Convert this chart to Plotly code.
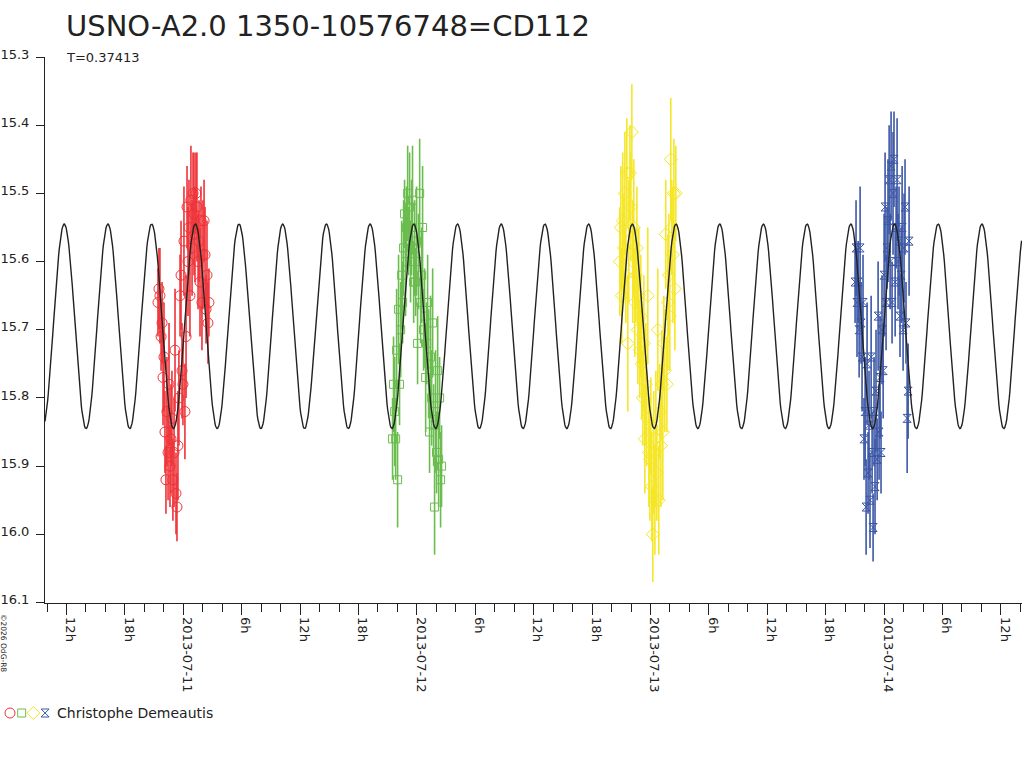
import numpy as np
import pandas as pd
import plotly.graph_objects as go

TITLE = "USNO-A2.0 1350-10576748=CD112"
PERIOD = 0.37413  # days, as printed on the chart
OBSERVER = "Christophe Demeautis"
CREDIT = "©2026 OdG-R8"

# model light curve (black line)
MODEL_MEAN = 15.695
MODEL_AMP = 0.150
MODEL_EPOCH = "2013-07-10 11:46"  # one of the maxima

X_START = "2013-07-10 09:47:30"
X_END = "2013-07-14 14:10"
Y_TOP, Y_BOTTOM = 15.3, 16.1

tick_times = ["2013-07-10 12:00", "2013-07-10 18:00", "2013-07-11 00:00", "2013-07-11 06:00",
              "2013-07-11 12:00", "2013-07-11 18:00", "2013-07-12 00:00", "2013-07-12 06:00",
              "2013-07-12 12:00", "2013-07-12 18:00", "2013-07-13 00:00", "2013-07-13 06:00",
              "2013-07-13 12:00", "2013-07-13 18:00", "2013-07-14 00:00", "2013-07-14 06:00",
              "2013-07-14 12:00"]
tick_text = ["12h", "18h", "2013-07-11", "6h", "12h", "18h", "2013-07-12", "6h",
             "12h", "18h", "2013-07-13", "6h", "12h", "18h", "2013-07-14", "6h", "12h"]

# night 1 - red circles (minutes after start)
red_start = "2013-07-10 21:24"
red_min = [0, 6, 12, 19, 25, 31, 37, 43, 49, 55, 62, 68, 74, 80, 86, 92, 99, 105, 111, 117,
           123, 129, 136, 142, 148, 154, 160, 166, 173, 179, 185, 191, 197, 203, 210, 216, 222, 228, 234, 240,
           247, 253, 259, 265, 271, 277, 284, 290, 296, 302, 308, 314]
red_mag = [15.66, 15.64, 15.65, 15.71, 15.69, 15.77, 15.74, 15.85, 15.92, 15.82,
           15.88, 15.78, 15.90, 15.86, 15.83, 15.92, 15.88, 15.73, 15.94, 15.96,
           15.87, 15.80, 15.65, 15.62, 15.76, 15.78, 15.57, 15.82, 15.71, 15.52,
           15.60, 15.55, 15.65, 15.51, 15.58, 15.50, 15.53, 15.56, 15.50, 15.52,
           15.60, 15.57, 15.63, 15.54, 15.66, 15.59, 15.54, 15.59, 15.67, 15.62,
           15.69, 15.66]
red_err = [0.05, 0.06, 0.07, 0.05, 0.06, 0.07, 0.08, 0.06, 0.05, 0.08,
           0.07, 0.09, 0.06, 0.08, 0.07, 0.06, 0.08, 0.09, 0.06, 0.05,
           0.08, 0.07, 0.06, 0.08, 0.07, 0.06, 0.08, 0.07, 0.09, 0.06,
           0.08, 0.07, 0.06, 0.08, 0.07, 0.06, 0.09, 0.07, 0.06, 0.08,
           0.07, 0.06, 0.08, 0.05, 0.07, 0.08, 0.06, 0.07, 0.05, 0.08,
           0.06, 0.05]

# night 2 - green squares
green_start = "2013-07-11 21:30"
green_min = [0, 6, 13, 19, 25, 31, 37, 43, 50, 56, 62, 68, 74, 80, 86, 93, 99, 105, 111, 117,
             123, 130, 136, 142, 148, 154, 160, 167, 173, 179, 185, 191, 197, 204, 210, 216, 222, 228, 234, 241,
             247, 253, 259, 265, 271, 278, 284, 290, 296, 302]
green_mag = [15.86, 15.78, 15.82, 15.86, 15.73, 15.92, 15.67, 15.78, 15.70, 15.62,
             15.66, 15.58, 15.53, 15.60, 15.55, 15.50, 15.57, 15.52, 15.60, 15.55,
             15.51, 15.63, 15.58, 15.63, 15.57, 15.72, 15.60, 15.50, 15.66, 15.62,
             15.55, 15.70, 15.68, 15.77, 15.72, 15.66, 15.75, 15.85, 15.74, 15.80,
             15.69, 15.84, 15.96, 15.82, 15.88, 15.76, 15.89, 15.80, 15.92, 15.90]
green_err = [0.06, 0.07, 0.08, 0.06, 0.09, 0.07, 0.08, 0.06, 0.07, 0.08,
             0.06, 0.07, 0.05, 0.08, 0.06, 0.07, 0.05, 0.08, 0.06, 0.07,
             0.08, 0.06, 0.07, 0.05, 0.08, 0.06, 0.07, 0.08, 0.06, 0.07,
             0.09, 0.06, 0.07, 0.08, 0.06, 0.07, 0.08, 0.06, 0.09, 0.07,
             0.08, 0.06, 0.07, 0.09, 0.06, 0.08, 0.07, 0.06, 0.07, 0.06]

# night 3 - yellow diamonds
yellow_start = "2013-07-12 20:51"
yellow_min = [0, 6, 12, 18, 25, 31, 37, 43, 49, 55, 62, 68, 74, 80, 86, 92, 99, 105, 111, 117,
              123, 129, 135, 142, 148, 154, 160, 166, 172, 179, 185, 191, 197, 203, 209, 216, 222, 228, 234, 240,
              246, 253, 259, 265, 271, 277, 283, 290, 296, 302, 308, 314, 320, 327, 333, 339, 345]
yellow_mag = [15.60, 15.55, 15.65, 15.54, 15.58, 15.50, 15.62, 15.47, 15.72, 15.57,
              15.47, 15.52, 15.41, 15.60, 15.55, 15.66, 15.62, 15.58, 15.70, 15.65,
              15.73, 15.68, 15.75, 15.80, 15.72, 15.86, 15.78, 15.83, 15.65, 15.88,
              15.89, 15.84, 15.93, 16.00, 15.88, 15.95, 15.86, 15.91, 15.70, 15.95,
              15.82, 15.87, 15.78, 15.85, 15.72, 15.76, 15.56, 15.78, 15.66, 15.62,
              15.68, 15.45, 15.55, 15.59, 15.50, 15.64, 15.50]
yellow_err = [0.08, 0.09, 0.07, 0.10, 0.08, 0.09, 0.07, 0.08, 0.10, 0.09,
              0.07, 0.08, 0.07, 0.09, 0.10, 0.08, 0.07, 0.09, 0.08, 0.10,
              0.07, 0.09, 0.08, 0.07, 0.10, 0.08, 0.09, 0.07, 0.10, 0.08,
              0.09, 0.07, 0.08, 0.07, 0.09, 0.08, 0.10, 0.07, 0.09, 0.08,
              0.07, 0.09, 0.08, 0.10, 0.07, 0.09, 0.08, 0.07, 0.10, 0.09,
              0.08, 0.09, 0.07, 0.10, 0.08, 0.09, 0.07]

# night 4 - blue hourglasses
blue_start = "2013-07-13 21:01"
blue_min = [0, 6, 12, 19, 25, 31, 37, 43, 49, 55, 62, 68, 74, 80, 86, 92, 99, 105, 111, 117,
            123, 129, 136, 142, 148, 154, 160, 166, 173, 179, 185, 191, 197, 203, 210, 216, 222, 228, 234, 240,
            247, 253, 259, 265, 271, 277, 284, 290, 296, 302, 308, 314, 321, 327, 333]
blue_mag = [15.63, 15.58, 15.66, 15.63, 15.70, 15.58, 15.69, 15.74, 15.66, 15.86,
            15.82, 15.96, 15.75, 15.91, 15.84, 15.95, 15.74, 15.88, 15.99, 15.82,
            15.93, 15.79, 15.89, 15.68, 15.85, 15.77, 15.88, 15.70, 15.76, 15.62,
            15.52, 15.66, 15.58, 15.54, 15.48, 15.60, 15.46, 15.66, 15.50, 15.45,
            15.63, 15.55, 15.48, 15.60, 15.57, 15.68, 15.62, 15.55, 15.70, 15.58,
            15.52, 15.69, 15.83, 15.79, 15.57]
blue_err = [0.06, 0.07, 0.08, 0.06, 0.07, 0.09, 0.06, 0.08, 0.07, 0.06,
            0.08, 0.07, 0.09, 0.06, 0.08, 0.07, 0.09, 0.06, 0.05, 0.08,
            0.07, 0.09, 0.06, 0.08, 0.07, 0.09, 0.06, 0.08, 0.07, 0.09,
            0.08, 0.07, 0.06, 0.09, 0.08, 0.07, 0.08, 0.06, 0.09, 0.07,
            0.08, 0.06, 0.09, 0.07, 0.08, 0.06, 0.07, 0.09, 0.06, 0.08,
            0.07, 0.06, 0.08, 0.07, 0.08]

W, H = 1024, 768
FONT = "DejaVu Sans"
INK = "#222222"

nights = [
    (red_start, red_min, red_mag, red_err, "#ee3338", "circle-open", 10),
    (green_start, green_min, green_mag, green_err, "#6bbd4f", "square-open", 8),
    (yellow_start, yellow_min, yellow_mag, yellow_err, "#f5e626", "diamond-open", 10),
    (blue_start, blue_min, blue_mag, blue_err, "#3c57a6", "hourglass-open", 8),
]

fig = go.Figure()

for start, mins, mags, errs, color, symbol, size in nights:
    assert len(mins) == len(mags) == len(errs)
    t = pd.Timestamp(start) + pd.to_timedelta(mins, unit="min")
    fig.add_trace(go.Scatter(
        x=t, y=mags, mode="markers",
        marker=dict(symbol=symbol, size=size, color=color, line=dict(width=1, color=color)),
        error_y=dict(type="data", array=errs, visible=True, color=color, thickness=1.6, width=0),
        showlegend=False, hoverinfo="x+y",
    ))

# fitted model, double-humped with the printed period
mt = pd.date_range(X_START, X_END, freq="4min")
phase = (mt - pd.Timestamp(MODEL_EPOCH)) / pd.Timedelta(days=1) / PERIOD
fig.add_trace(go.Scatter(
    x=mt, y=MODEL_MEAN - MODEL_AMP * np.cos(4 * np.pi * phase),
    mode="lines", line=dict(color=INK, width=1.4), showlegend=False, hoverinfo="skip",
))

# legend glyph row at the bottom left
for i, (_, _, _, _, color, symbol, size) in enumerate(nights):
    fig.add_trace(go.Scatter(
        x=[10 + 11.7 * i], y=[0.5], mode="markers", xaxis="x2", yaxis="y2",
        marker=dict(symbol=symbol, size=size, color=color, line=dict(width=1, color=color)),
        showlegend=False, hoverinfo="skip",
    ))


def px(v):
    # window pixel -> paper x
    return v / W


def py(v):
    # window pixel -> paper y
    return 1 - v / H


fig.update_layout(
    width=W, height=H,
    margin=dict(l=0, r=0, t=0, b=0, autoexpand=False),
    paper_bgcolor="white", plot_bgcolor="white",
    font=dict(family=FONT, size=13, color=INK),
    showlegend=False,
    xaxis=dict(
        domain=[px(45), px(1022)], type="date", range=[X_START, X_END], automargin=False,
        showgrid=False, zeroline=False, showline=True, linecolor=INK, linewidth=1,
        tickmode="array", tickvals=tick_times, ticktext=tick_text,
        ticks="outside", ticklen=11, tickwidth=1, tickcolor=INK,
        tickangle=90, ticklabelshift=4,
        minor=dict(dtick=2 * 3600 * 1000, tick0="2013-07-10 00:00", ticks="outside",
                   ticklen=8, tickwidth=1, tickcolor=INK, showgrid=False),
        anchor="y",
    ),
    yaxis=dict(
        domain=[py(602.5), py(57)], range=[Y_BOTTOM, Y_TOP], dtick=0.1, tickformat=".1f",
        automargin=False,
        showgrid=False, zeroline=False, showline=True, linecolor=INK, linewidth=1,
        ticks="outside", ticklen=8, tickwidth=1, tickcolor=INK,
        ticklabelstandoff=4, ticklabelshift=3,
        anchor="x",
    ),
    xaxis2=dict(domain=[0, px(60)], range=[0, 60], visible=False, fixedrange=True),
    yaxis2=dict(domain=[py(722), py(704)], range=[0, 1], visible=False, fixedrange=True, anchor="x2"),
    annotations=[
        dict(text=TITLE, x=px(64), y=py(26), xref="paper", yref="paper",
             xanchor="left", yanchor="middle", showarrow=False,
             font=dict(family=FONT, size=29, color=INK)),
        dict(text=f"T={PERIOD}", x=px(64), y=py(57), xref="paper", yref="paper",
             xanchor="left", yanchor="middle", showarrow=False,
             font=dict(family=FONT, size=13, color=INK)),
        dict(text=OBSERVER, x=px(55), y=py(713), xref="paper", yref="paper",
             xanchor="left", yanchor="middle", showarrow=False,
             font=dict(family=FONT, size=14, color=INK)),
        dict(text=CREDIT, x=px(4), y=py(643), xref="paper", yref="paper",
             xanchor="center", yanchor="middle", showarrow=False, textangle=90,
             font=dict(family=FONT, size=7.5, color=INK)),
    ],
)

# drop the default 8px body margin so the figure sits at the window's corner
fig.write_html("out.html", config={"displayModeBar": False},
               post_script="document.body.style.margin = '0';")
